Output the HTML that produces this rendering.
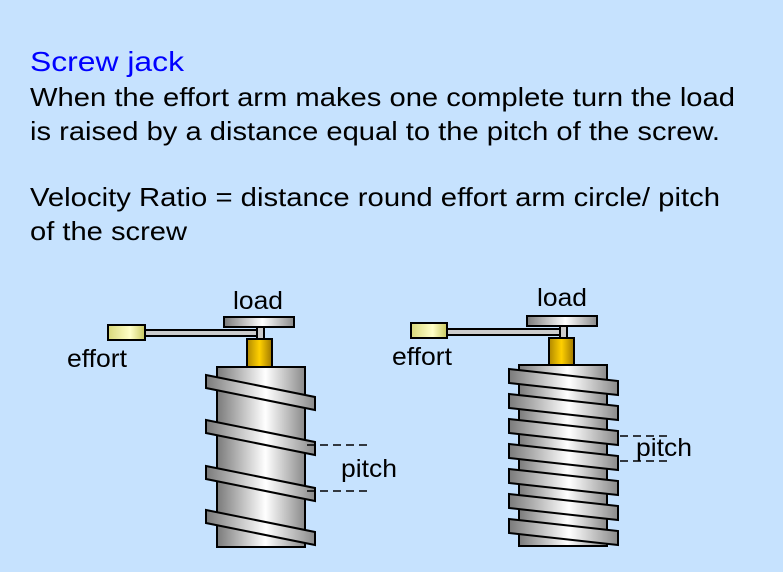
<!DOCTYPE html>
<html><head><meta charset="utf-8"><style>body{margin:0;background:#c6e2fe}svg{display:block}</style></head><body>
<svg width="783" height="572" xmlns="http://www.w3.org/2000/svg" font-family="Liberation Sans, Arial, sans-serif">
<defs>
<linearGradient id="cyl" x1="0" x2="1"><stop offset="0" stop-color="#7a7a7a"/><stop offset="0.55" stop-color="#ffffff"/><stop offset="1" stop-color="#8a8a8a"/></linearGradient>
<linearGradient id="gold" x1="0" x2="1"><stop offset="0" stop-color="#b08800"/><stop offset="0.5" stop-color="#ffd000"/><stop offset="1" stop-color="#a07800"/></linearGradient>
<linearGradient id="hdl" x1="0" x2="1"><stop offset="0" stop-color="#d8d87a"/><stop offset="0.6" stop-color="#ffffc8"/><stop offset="1" stop-color="#c8c860"/></linearGradient>
</defs>
<rect width="783" height="572" fill="#c6e2fe"/>
<text x="30" y="71" font-size="28" fill="#0000ff" textLength="154" lengthAdjust="spacingAndGlyphs">Screw jack</text>
<g font-size="26" fill="#000">
<text x="30" y="106" textLength="705" lengthAdjust="spacingAndGlyphs">When the effort arm makes one complete turn the load</text>
<text x="30" y="140" textLength="690" lengthAdjust="spacingAndGlyphs">is raised by a distance equal to the pitch of the screw.</text>
<text x="30" y="206" textLength="690" lengthAdjust="spacingAndGlyphs">Velocity Ratio = distance round effort arm circle/ pitch</text>
<text x="30" y="240" textLength="157" lengthAdjust="spacingAndGlyphs">of the screw</text>
<g font-size="25">
<text x="233" y="309" textLength="50" lengthAdjust="spacingAndGlyphs">load</text>
<text x="67" y="367" textLength="60" lengthAdjust="spacingAndGlyphs">effort</text>
<text x="341" y="477" textLength="56" lengthAdjust="spacingAndGlyphs">pitch</text>
<text x="537" y="306" textLength="50" lengthAdjust="spacingAndGlyphs">load</text>
<text x="392" y="365" textLength="60" lengthAdjust="spacingAndGlyphs">effort</text>
<text x="636" y="456" textLength="56" lengthAdjust="spacingAndGlyphs">pitch</text>
</g>
</g>
<!-- left jack -->
<g stroke="#000" stroke-width="2">
<rect x="108" y="325" width="37" height="15" fill="url(#hdl)"/>
<rect x="145" y="330" width="114" height="6" fill="#ccc"/>
<rect x="257" y="326" width="7" height="13" fill="#ccc"/>
<rect x="224" y="317" width="70" height="10" fill="url(#cyl)"/>
<rect x="247" y="339" width="25" height="28" fill="url(#gold)"/>
<rect x="217" y="367" width="88" height="180" fill="url(#cyl)"/>
<polygon points="206,375 315,397 315,410 206,388" fill="url(#cyl)"/>
<polygon points="206,420 315,442 315,455 206,433" fill="url(#cyl)"/>
<polygon points="206,466 315,488 315,501 206,479" fill="url(#cyl)"/>
<polygon points="206,510 315,532 315,545 206,523" fill="url(#cyl)"/>
</g>
<g stroke="#000" stroke-width="1.5" stroke-dasharray="8,5">
<line x1="307" y1="445" x2="370" y2="445"/><line x1="307" y1="491" x2="370" y2="491"/>
<line x1="607" y1="436" x2="670" y2="436"/><line x1="607" y1="461" x2="670" y2="461"/>
</g>
<!-- right jack -->
<g stroke="#000" stroke-width="2">
<rect x="411" y="323" width="36" height="15" fill="url(#hdl)"/>
<rect x="447" y="329" width="115" height="6" fill="#ccc"/>
<rect x="560" y="325" width="7" height="13" fill="#ccc"/>
<rect x="527" y="316" width="70" height="10" fill="url(#cyl)"/>
<rect x="549" y="338" width="25" height="27" fill="url(#gold)"/>
<rect x="519" y="365" width="88" height="181" fill="url(#cyl)"/>
<polygon points="509,369 618,381 618,395 509,383" fill="url(#cyl)"/>
<polygon points="509,394 618,406 618,420 509,408" fill="url(#cyl)"/>
<polygon points="509,419 618,431 618,445 509,433" fill="url(#cyl)"/>
<polygon points="509,444 618,456 618,470 509,458" fill="url(#cyl)"/>
<polygon points="509,469 618,481 618,495 509,483" fill="url(#cyl)"/>
<polygon points="509,494 618,506 618,520 509,508" fill="url(#cyl)"/>
<polygon points="509,519 618,531 618,545 509,533" fill="url(#cyl)"/>
</g>
</svg>
</body></html>
